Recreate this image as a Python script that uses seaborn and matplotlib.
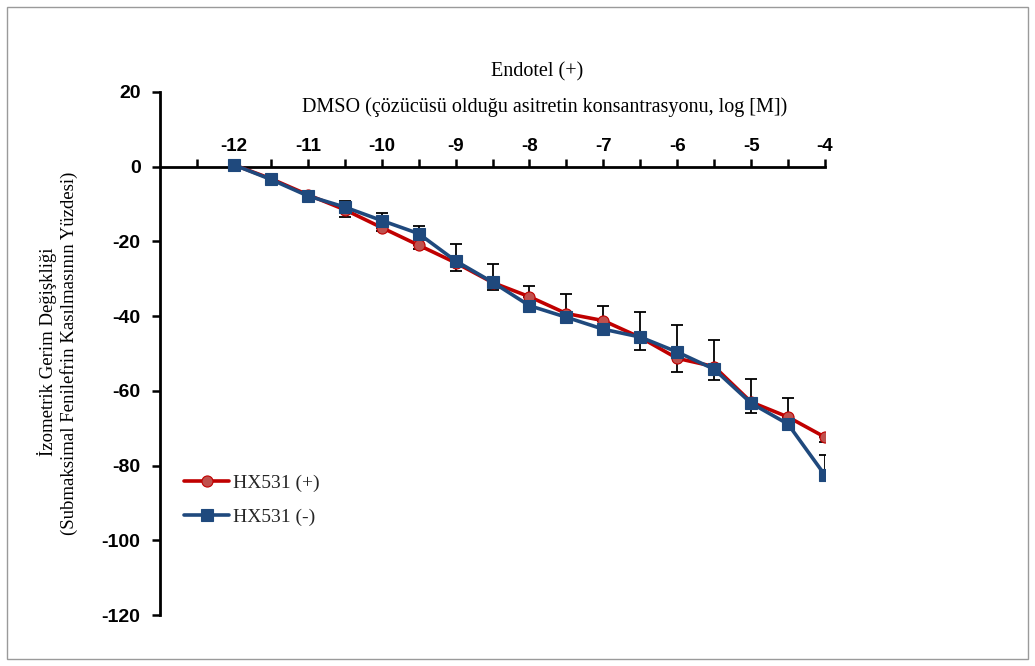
import numpy as np
import pandas as pd
import matplotlib
matplotlib.use("Agg")
import matplotlib.pyplot as plt
from matplotlib.patches import Rectangle
from matplotlib.ticker import FixedLocator, NullFormatter
import seaborn as sns

# ---- data ----
log_conc = [-12, -11.5, -11, -10.5, -10, -9.5, -9, -8.5, -8, -7.5, -7, -6.5, -6, -5.5, -5, -4.5, -4]
hx_pos = [0.5, -3.2, -7.5, -11.5, -16.3, -21.0, -25.7, -31.0, -34.8, -39.3, -41.2, -45.7, -51.3, -53.5, -63.0, -67.0, -72.4]
hx_neg = [0.5, -3.4, -7.8, -10.8, -14.4, -17.9, -25.2, -30.9, -37.2, -40.3, -43.5, -45.6, -49.6, -54.2, -63.3, -68.9, -82.6]
hx_pos_err_minus = [0.3, 0.6, 0.8, 1.9, 1.0, 1.0, 2.3, 2.0, 1.5, 2.4, 2.0, 3.3, 3.7, 3.5, 3.0, 1.5, 1.4]
hx_neg_err_plus = [0.5, 0.8, 1.4, 1.7, 2.1, 2.1, 4.6, 4.9, 5.2, 6.1, 6.3, 6.8, 7.1, 7.7, 6.6, 6.9, 5.3]
x_tick_labels = ["-12", "-11", "-10", "-9", "-8", "-7", "-6", "-5", "-4"]
y_ticks = [20, 0, -20, -40, -60, -80, -100, -120]
label_pos = "HX531 (+)"
label_neg = "HX531 (-)"

df_pos = pd.DataFrame({"x": log_conc, "y": hx_pos})
df_neg = pd.DataFrame({"x": log_conc, "y": hx_neg})

sns.set_theme(style="white")
plt.rcParams["font.family"] = ["Liberation Sans", "DejaVu Sans"]

fig = plt.figure(figsize=(10.35, 6.66), dpi=100)
ax = fig.add_axes([160 / 1035, 1 - 615 / 666, (825 - 160) / 1035, (615 - 92) / 666])

red_line = "#C00000"
red_fill = "#C0504D"
blue = "#1F497D"

# error bars (plus for HX531(-), minus for HX531(+))
ax.errorbar(log_conc, hx_neg, yerr=[np.zeros(len(hx_neg)), hx_neg_err_plus], fmt="none",
            ecolor="black", elinewidth=1.3, capsize=4.5, capthick=1.3, zorder=1)
ax.errorbar(log_conc, hx_pos, yerr=[hx_pos_err_minus, np.zeros(len(hx_pos))], fmt="none",
            ecolor="black", elinewidth=1.3, capsize=4.5, capthick=1.3, zorder=1)

sns.lineplot(data=df_pos, x="x", y="y", ax=ax, color=red_line, lw=2.6, marker="o",
             markersize=8, markerfacecolor=red_fill, markeredgecolor=red_line,
             markeredgewidth=0.8, label=label_pos, zorder=3)
sns.lineplot(data=df_neg, x="x", y="y", ax=ax, color=blue, lw=2.6, marker="s",
             markersize=8.5, markerfacecolor=blue, markeredgecolor=blue,
             markeredgewidth=0.8, label=label_neg, zorder=4)

ax.set_xlim(-13, -4)
ax.set_ylim(-120, 20)
ax.set_xlabel("")
ax.set_ylabel("")

for s in ["top", "right"]:
    ax.spines[s].set_visible(False)
ax.spines["bottom"].set_position(("data", 0))
ax.spines["bottom"].set_color("black")
ax.spines["left"].set_color("black")
ax.spines["bottom"].set_linewidth(2)
ax.spines["left"].set_linewidth(2)
ax.spines["left"].set_bounds(-120, 20)

ax.xaxis.set_major_locator(FixedLocator([-12, -11, -10, -9, -8, -7, -6, -5, -4]))
ax.set_xticklabels(x_tick_labels)
ax.xaxis.set_minor_locator(FixedLocator([-12.5, -11.5, -10.5, -9.5, -8.5, -7.5, -6.5, -5.5, -4.5]))
ax.xaxis.set_minor_formatter(NullFormatter())
ax.tick_params(axis="x", which="both", direction="in", length=6, width=1.8, color="black",
               bottom=True, pad=-21)
ax.tick_params(axis="x", which="major", labelsize=13.5, labelcolor="black")
for t in ax.get_xticklabels():
    t.set_fontweight("bold")

ax.set_yticks(y_ticks)
ax.set_yticklabels([str(v) for v in y_ticks])
ax.tick_params(axis="y", direction="out", length=6, width=1.8, color="black", left=True,
               labelsize=14, labelcolor="black", pad=8)
for t in ax.get_yticklabels():
    t.set_fontweight("bold")
ax.grid(False)

serif = ["Liberation Serif", "DejaVu Serif"]
fig.text(537 / 1035, 1 - 72 / 666, "Endotel (+)", ha="center", va="center", fontsize=14.5,
         family=serif, color="black")
fig.text(545 / 1035, 1 - 107 / 666, "DMSO (çözücüsü olduğu asitretin konsantrasyonu, log [M])",
         ha="center", va="center", fontsize=14.5, family=serif, color="black")
fig.text(47 / 1035, 1 - 352 / 666, "İzometrik Gerim Değişkliği",
         ha="center", va="center", rotation=90, fontsize=13.5, family=serif, color="black")
fig.text(69 / 1035, 1 - 353 / 666, "(Submaksimal Fenilefrin Kasılmasının Yüzdesi)",
         ha="center", va="center", rotation=90, fontsize=13.5, family=serif, color="black")

leg = ax.legend(loc="center left", bbox_to_anchor=(0.01, 0.22), frameon=False,
                prop={"family": serif, "size": 14}, handlelength=2.3, labelspacing=0.85,
                handletextpad=0.2)

fig.patches.append(Rectangle((7 / 1035, 1 - 659 / 666), (1028 - 7) / 1035, (659 - 7) / 666,
                             transform=fig.transFigure, fill=False, ec="#9a9a9a", lw=1))

fig.savefig("out.png", dpi=100)
